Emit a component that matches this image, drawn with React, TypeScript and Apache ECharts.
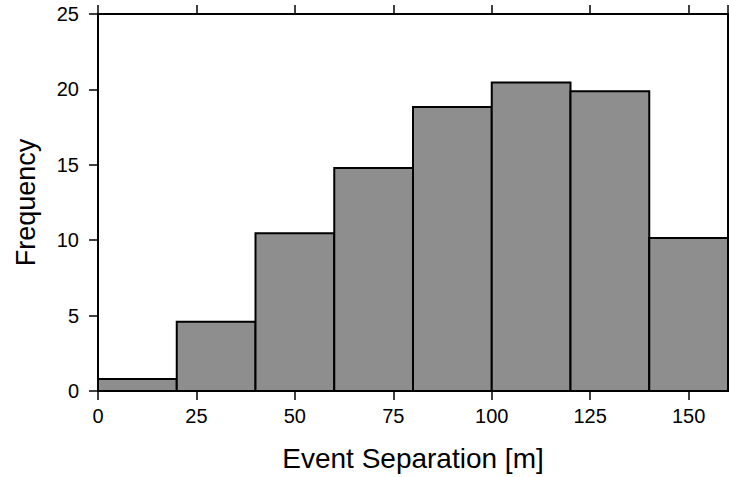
import React, { useEffect, useRef } from "react";
import * as echarts from "echarts";

const binStarts = [0, 20, 40, 60, 80, 100, 120, 140];
const binWidth = 20;
const frequencies = [0.8, 4.6, 10.46, 14.78, 18.83, 20.46, 19.88, 10.15];
const xTicks = [0, 25, 50, 75, 100, 125, 150];
const yTicks = [0, 5, 10, 15, 20, 25];

const FONT = "'Liberation Sans', Arial, Helvetica, sans-serif";

export default function App() {
  const ref = useRef<HTMLDivElement>(null);
  useEffect(() => {
    if (!ref.current) return;
    const chart = echarts.init(ref.current, undefined, { renderer: "svg" });
    const data = binStarts.map((s, i) => [s, s + binWidth, frequencies[i]]);
    chart.setOption({
      animation: false,
      backgroundColor: "#ffffff",
      textStyle: { fontFamily: FONT },
      grid: {
        left: 98,
        top: 14,
        right: 1,
        bottom: 85,
        show: true,
        borderColor: "#000",
        borderWidth: 2,
        backgroundColor: "transparent",
      },
      xAxis: [
        {
          type: "value",
          min: 0,
          max: 160,
          interval: 25,
          position: "bottom",
          name: "Event Separation [m]",
          nameLocation: "middle",
          nameGap: 53,
          nameTextStyle: { fontSize: 28, color: "#000", fontFamily: FONT },
          axisLine: { show: true, lineStyle: { color: "#000", width: 2 } },
          axisTick: { show: true, length: 9, lineStyle: { color: "#000", width: 1.5 } },
          axisLabel: {
            fontSize: 20,
            color: "#000",
            margin: 15,
            fontFamily: FONT,
            showMaxLabel: false,
            formatter: (v: number) => (xTicks.includes(v) ? String(v) : ""),
          },
          splitLine: { show: false },
        },
        {
          type: "value",
          min: 0,
          max: 160,
          interval: 25,
          position: "top",
          axisLine: { show: true, lineStyle: { color: "#000", width: 2 } },
          axisTick: { show: true, length: 9, lineStyle: { color: "#000", width: 1.5 } },
          axisLabel: { show: false },
          splitLine: { show: false },
        },
      ],
      yAxis: {
        type: "value",
        min: 0,
        max: 25,
        interval: 5,
        name: "Frequency",
        nameLocation: "middle",
        nameGap: 59,
        nameTextStyle: { fontSize: 27, color: "#000", fontFamily: FONT },
        axisLine: { show: true, lineStyle: { color: "#000", width: 2 } },
        axisTick: { show: true, length: 9, lineStyle: { color: "#000", width: 1.5 } },
        axisLabel: {
          fontSize: 20,
          color: "#000",
          margin: 19,
          fontFamily: FONT,
          formatter: (v: number) => (yTicks.includes(v) ? String(v) : ""),
        },
        splitLine: { show: false },
      },
      series: [
        {
          type: "custom",
          xAxisIndex: 0,
          yAxisIndex: 0,
          data,
          encode: { x: [0, 1], y: 2 },
          renderItem: (params: any, api: any) => {
            const p0 = api.coord([api.value(0), 0]);
            const p1 = api.coord([api.value(1), api.value(2)]);
            return {
              type: "rect",
              shape: { x: p0[0], y: p1[1], width: p1[0] - p0[0], height: p0[1] - p1[1] },
              style: { fill: "#8e8e8e", stroke: "#000", lineWidth: 2 },
            };
          },
        },
      ],
    });
    return () => chart.dispose();
  }, []);
  return <div ref={ref} style={{ width: 729, height: 477, position: "absolute", left: 0, top: 0 }} />;
}
